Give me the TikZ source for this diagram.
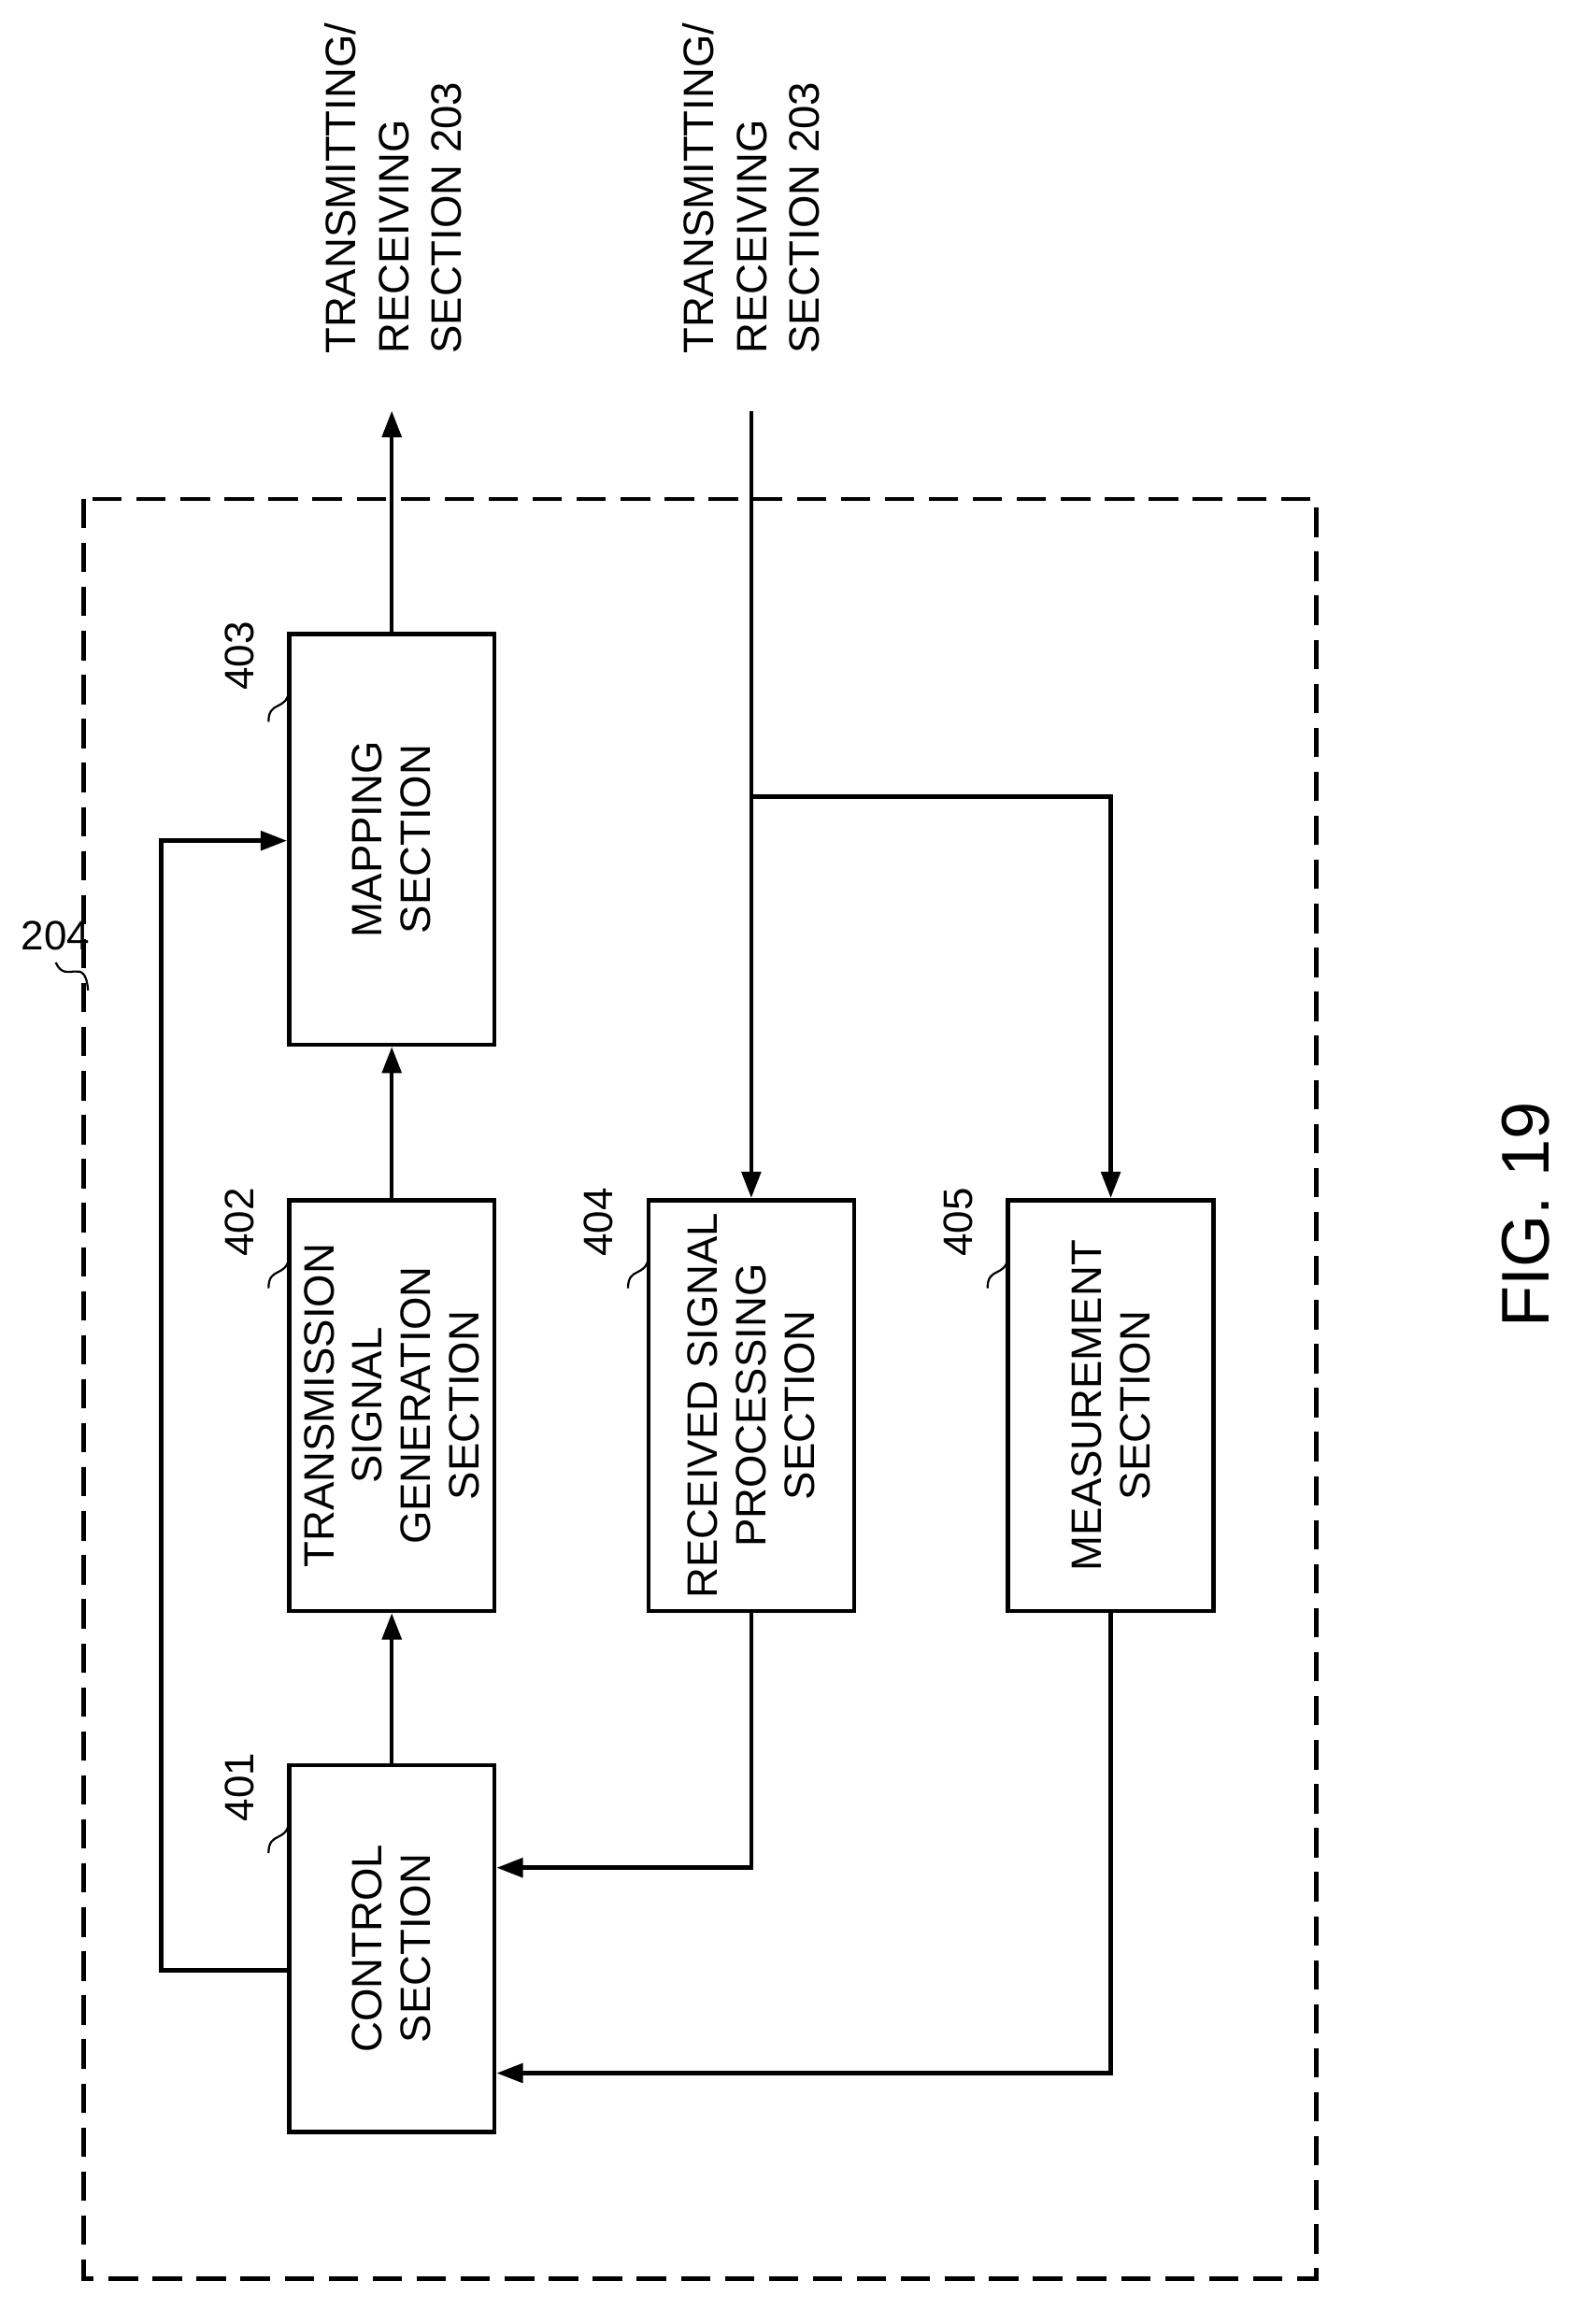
\documentclass[tikz,border=0pt]{standalone}
\usepackage{fontspec}
\setmainfont{Liberation Sans}
\usetikzlibrary{arrows.meta}
\begin{document}
\begin{tikzpicture}[x=1pt,y=-1pt,line width=2.9pt,
  box/.style={draw,minimum width=140pt,minimum height=280pt,inner sep=0pt},
  txt/.style={rotate=90,align=center,font=\fontsize{29}{33}\selectfont},
  arr/.style={-{Triangle[length=18pt,width=13pt]}},
  lab/.style={rotate=90,font=\fontsize{28}{30}\selectfont},
  ext/.style={rotate=90,anchor=west,align=left,font=\fontsize{29}{36}\selectfont}]
\useasboundingbox (0,0) rectangle (1080,1584);
\draw[dash pattern=on 20pt off 10pt] (57,340) rectangle (897,1553);
\node[box,minimum height=250pt] (c) at (267,1328) {};
\node[txt] at (c) {CONTROL\\SECTION};
\node[box] (t) at (267,958) {};
\node[txt] at (t) {TRANSMISSION\\SIGNAL\\GENERATION\\SECTION};
\node[box] (m) at (267,572) {};
\node[txt] at (m) {MAPPING\\SECTION};
\node[box] (r) at (512,958) {};
\node[txt] at (r) {RECEIVED SIGNAL\\PROCESSING\\SECTION};
\node[box] (s) at (757,958) {};
\node[txt] at (s) {MEASUREMENT\\SECTION};
\node[ext] (o1) at (268,246) {TRANSMITTING/\\RECEIVING\\SECTION 203};
\node[ext] (o2) at (512,246) {TRANSMITTING/\\RECEIVING\\SECTION 203};
\coordinate (mo) at (267,280);
\coordinate (ri) at (512,280);
\coordinate (br) at (512,543);
\draw[arr] (c.north) -- (t.south);
\draw[arr] (t.north) -- (m.south);
\draw[arr] (m.north) -- (mo);
\draw[arr] (ri) -- (r.north);
\draw[arr] (br) -| (s.north);
\draw[arr] (r.south) |- (c.east |- 0,1273);
\draw[arr] (s.south) |- (c.east |- 0,1413);
\draw[arr] (c.west |- 0,1343) -| (110,573) -- (m.west |- 0,573);
\foreach \n/\x/\y in {401/163/1218,402/163/833,403/163/447,404/408/833,405/653/833}{
  \node[lab] (l\n) at (\x,\y) {\n};
  \draw[line width=1.4pt] (\x+20,\y+45) .. controls (\x+20,\y+30) and (\x+32,\y+38) .. (\x+34,\y+24);
}
\node[font=\fontsize{28}{30}\selectfont] (l204) at (38,638) {204};
\draw[line width=1.4pt] (38,656) .. controls (45,672) and (58,650) .. (60,675);
\node[rotate=90,font=\fontsize{46}{50}\selectfont] (fig) at (1040,828) {FIG. 19};
\end{tikzpicture}
\end{document}
